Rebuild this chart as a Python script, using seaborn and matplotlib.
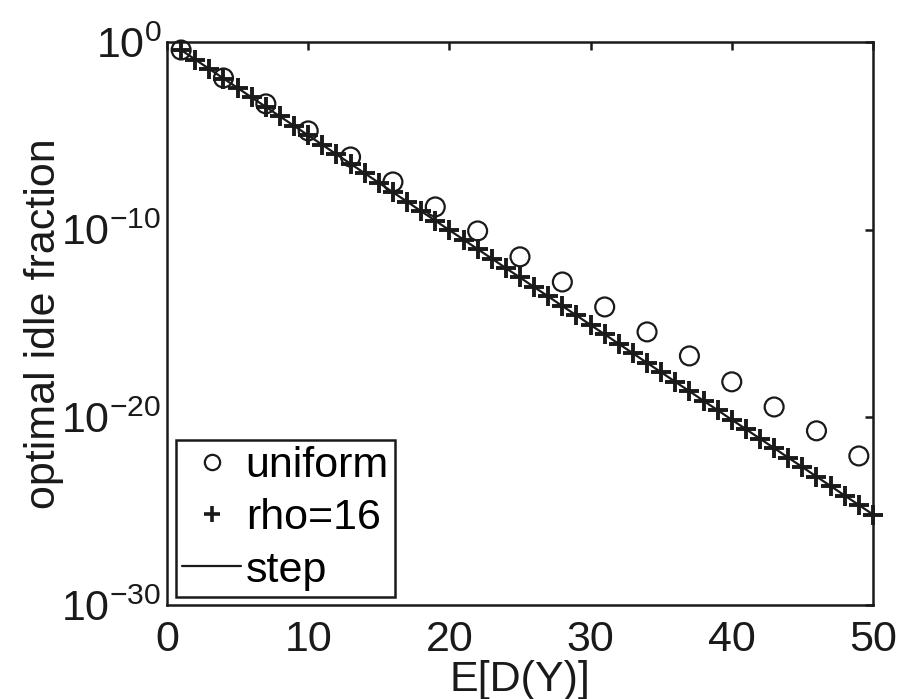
import numpy as np
import pandas as pd
import matplotlib
matplotlib.use("Agg")
import matplotlib.pyplot as plt
from matplotlib import ticker
from matplotlib.lines import Line2D
import seaborn as sns

# ---- data (y given as log10 values) ----
uniform_x = [1, 4, 7, 10, 13, 16, 19, 22, 25, 28, 31, 34, 37, 40, 43, 46, 49]
uniform_log10 = [-0.43, -1.92, -3.30, -4.74, -6.13, -7.46, -8.79, -10.07, -11.45,
                 -12.79, -14.12, -15.45, -16.73, -18.11, -19.45, -20.72, -22.06]

rho_x = [1, 2, 3, 4, 5, 6, 7, 8, 9, 10, 11, 12, 13, 14, 15, 16, 17, 18, 19, 20,
         21, 22, 23, 24, 25, 26, 27, 28, 29, 30, 31, 32, 33, 34, 35, 36, 37, 38, 39, 40,
         41, 42, 43, 44, 45, 46, 47, 48, 49, 50]
rho_log10 = [-0.43, -0.94, -1.44, -1.95, -2.45, -2.96, -3.46, -3.97, -4.47, -4.98,
             -5.48, -5.99, -6.49, -7.00, -7.50, -8.01, -8.51, -9.02, -9.52, -10.03,
             -10.53, -11.04, -11.54, -12.05, -12.55, -13.06, -13.56, -14.07, -14.57, -15.08,
             -15.58, -16.09, -16.59, -17.10, -17.60, -18.11, -18.61, -19.12, -19.62, -20.13,
             -20.63, -21.14, -21.64, -22.15, -22.65, -23.16, -23.66, -24.17, -24.67, -25.18]

step_x = rho_x
step_log10 = rho_log10

labels = ["uniform", "rho=16", "step"]
x_label = "E[D(Y)]"
y_label = "optimal idle fraction"
x_ticks = [0, 10, 20, 30, 40, 50]
y_ticks = [1e0, 1e-10, 1e-20, 1e-30]

df_u = pd.DataFrame({"x": uniform_x, "y": 10.0 ** np.array(uniform_log10)})
df_r = pd.DataFrame({"x": rho_x, "y": 10.0 ** np.array(rho_log10)})
df_s = pd.DataFrame({"x": step_x, "y": 10.0 ** np.array(step_log10)})

# ---- style ----
sns.set_theme(style="white")
fam = "Liberation Sans"
plt.rcParams["font.family"] = [fam, "DejaVu Sans"]
plt.rcParams["mathtext.fontset"] = "custom"
plt.rcParams["mathtext.rm"] = fam
plt.rcParams["axes.unicode_minus"] = True
for k in ["text.color", "axes.labelcolor", "xtick.color", "ytick.color", "axes.edgecolor"]:
    plt.rcParams[k] = "black"

FS = 31
fig = plt.figure(figsize=(8.97, 6.99), dpi=100)
ax = fig.add_axes([0.1862, 0.1345, 0.787, 0.8055])

sns.scatterplot(data=df_u, x="x", y="y", ax=ax, marker="o", s=185,
                facecolors="none", edgecolor="k", linewidth=1.6, clip_on=False,
                zorder=3)
sns.scatterplot(data=df_r, x="x", y="y", ax=ax, marker="+", s=190,
                color="k", linewidth=2.8, clip_on=False, zorder=3)
sns.lineplot(data=df_s, x="x", y="y", ax=ax, color="k", linewidth=1.6, zorder=2)

ax.set_yscale("log")
ax.set_xlim(0, 50)
ax.set_ylim(1e-30, 1e0)
ax.xaxis.set_major_locator(ticker.FixedLocator(x_ticks))
ax.yaxis.set_major_locator(ticker.FixedLocator(y_ticks))
ax.yaxis.set_minor_locator(ticker.NullLocator())
ax.xaxis.set_minor_locator(ticker.NullLocator())
ax.yaxis.set_major_formatter(ticker.LogFormatterSciNotation())

ax.tick_params(axis="both", which="major", direction="in", length=6, width=1.8,
               top=True, right=True, labelsize=FS, colors="k")
ax.tick_params(axis="x", pad=11)
ax.tick_params(axis="y", pad=4)
for sp in ax.spines.values():
    sp.set_visible(True)
    sp.set_color("k")
    sp.set_linewidth(1.8)

ax.set_xlabel(x_label, fontsize=FS, labelpad=0, color="k")
ax.set_ylabel(y_label, fontsize=FS, labelpad=-2, color="k")

handles = [
    Line2D([], [], marker="o", linestyle="none", markerfacecolor="none",
           markeredgecolor="k", markersize=11, markeredgewidth=1.6),
    Line2D([], [], marker="+", linestyle="none", color="k", markersize=12,
           markeredgewidth=2.6),
    Line2D([], [], color="k", linewidth=1.6),
]
leg = ax.legend(handles, labels, loc="lower left", bbox_to_anchor=(0.0127, 0.0142),
                borderaxespad=0, frameon=True, fancybox=False, edgecolor="k",
                framealpha=1, fontsize=FS, handlelength=1.35, handletextpad=0.12,
                labelspacing=0.28, borderpad=0.15)
leg.get_frame().set_linewidth(1.8)

fig.savefig("out.png", dpi=100, facecolor="white")
